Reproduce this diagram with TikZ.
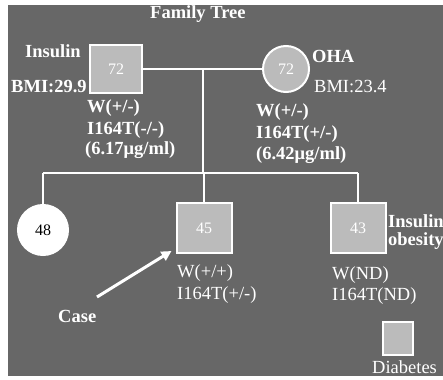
\documentclass[tikz,border=0pt]{standalone}
\usepackage{fontspec}
\setmainfont{Liberation Serif}
\usetikzlibrary{arrows.meta}
\definecolor{bgc}{HTML}{676767}
\definecolor{boxc}{HTML}{BBBBBB}
\tikzset{
  sq/.style={draw=white, line width=2pt, fill=boxc, inner sep=0pt, text=white, font=\fontsize{16}{16}\selectfont},
  circ/.style={circle, draw=white, line width=2pt, fill=boxc, inner sep=0pt, text=white, font=\fontsize{16}{16}\selectfont},
  lbl/.style={anchor=base west, inner sep=0pt, text=white, font=\fontsize{18.5}{18.5}\selectfont\bfseries},
  lblr/.style={anchor=base west, inner sep=0pt, text=white, font=\fontsize{18.5}{18.5}\selectfont},
  conn/.style={draw=white, line width=1.5pt},
}
\begin{document}
\begin{tikzpicture}[x=1pt,y=-1pt]
\useasboundingbox (0,0) rectangle (443,379);
\fill[white] (0,0) rectangle (443,379);
\fill[bgc] (8,5) rectangle (443,376);
% title
\node[lbl] (title) at (150,19) {Family Tree};
% parents
\node[sq, minimum width=52pt, minimum height=48pt] (f) at (116,69) {72};
\node[circ, minimum size=46pt] (m) at (286,69) {72};
\coordinate (mid) at (203,69);
\coordinate (sm) at (203,173);
\coordinate (s1) at (43,173);
\coordinate (s3) at (358,173);
% children
\node[circ, fill=white, text=black, minimum size=50pt] (c1) at (43,230) {48};
\node[sq, minimum width=55pt, minimum height=50pt] (c2) at (204,228) {45};
\node[sq, minimum width=55pt, minimum height=50pt] (c3) at (358,228) {43};
% connectors
\draw[conn] (f.east) -- (m.west);
\draw[conn] (mid) -- (sm);
\draw[conn] (s1) -- (s3);
\draw[conn] (s1) -- (c1.north);
\draw[conn] (sm -| c2.north) -- (c2.north);
\draw[conn] (s3) -- (c3.north);
% father labels
\node[lbl] (fins) at (25,58) {Insulin};
\node[lbl] (fbmi) at (11,93) {BMI:29.9};
\node[lbl] (fw) at (87,113) {W(+/-)};
\node[lbl] (fi) at (87,135) {I164T(-/-)};
\node[lbl] (fc) at (85,155) {(6.17μg/ml)};
% mother labels
\node[lbl] (moha) at (312,63) {OHA};
\node[lblr] (mbmi) at (314,93) {BMI:23.4};
\node[lbl] (mw) at (256,117) {W(+/-)};
\node[lbl] (mi) at (256,139) {I164T(+/-)};
\node[lbl] (mc) at (256,160) {(6.42μg/ml)};
% child labels
\node[lblr] (c2w) at (177,277) {W(+/+)};
\node[lblr] (c2i) at (177,299) {I164T(+/-)};
\node[lblr] (c3w) at (332,279) {W(ND)};
\node[lblr] (c3i) at (332,300) {I164T(ND)};
\node[lbl] (c3a) at (388,227) {Insulin};
\node[lbl] (c3b) at (388,245) {obesity};
% case arrow
\node[lbl] (case) at (58,322) {Case};
\coordinate (arrs) at (97,297);
\draw[white, line width=3pt, -{Triangle[length=10pt,width=10pt]}] (arrs) -- ([xshift=-4pt,yshift=3pt]c2.south west);
% legend
\node[sq, minimum width=30pt, minimum height=33pt] (leg) at (398,338) {};
\node[lblr] (diab) at (372,373) {Diabetes};
\end{tikzpicture}
\end{document}
